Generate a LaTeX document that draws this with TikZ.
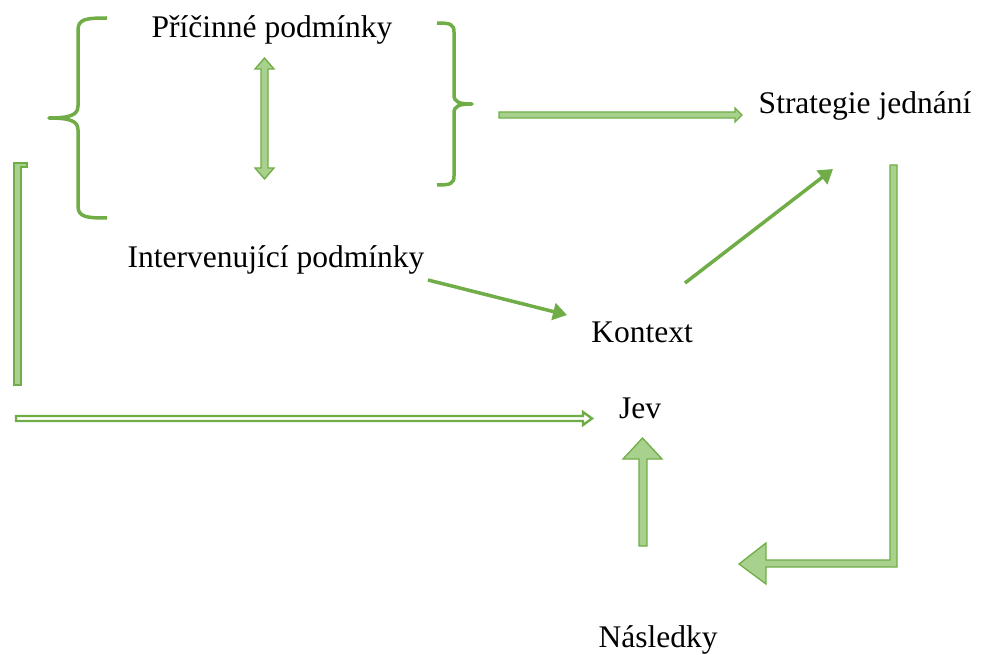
\documentclass[tikz,border=0pt]{standalone}
\usepackage{fontspec}
\setmainfont{Liberation Serif}
\usetikzlibrary{arrows.meta}

\definecolor{gline}{RGB}{112,173,71}
\definecolor{gfill}{RGB}{169,209,142}

\tikzset{
  label/.style={anchor=base, inner sep=0pt, font=\fontsize{31.5}{36}\selectfont},
  brace/.style={draw=gline, line width=3.5pt, line cap=butt, line join=round},
  blockarrow/.style={draw=gline, fill=gfill, line width=1.3pt, line join=miter},
  hollowarrow/.style={draw=gline, fill=white, line width=2.4pt, line join=miter},
  thinarrow/.style={draw=gline, line width=3.5pt, -{Triangle[length=14pt,width=17pt]}}
}

\begin{document}
\begin{tikzpicture}[x=1pt,y=-1pt]
\useasboundingbox (0,0) rectangle (984,655);

% labels
\node[label] (pric)  at (272,38)  {Příčinné podmínky};
\node[label] (strat) at (865,114) {Strategie jednání};
\node[label] (interv) at (276,267) {Intervenující podmínky};
\node[label] (kont)  at (642,342) {Kontext};
\node[label] (jev)   at (640,418) {Jev};
\node[label] (nasl)  at (658,647) {Následky};

% left curly brace
\draw[brace] (107,18) .. controls (86,18) and (78,19) .. (78,30) -- (78,106)
  .. controls (78,115) and (70,118) .. (49,118)
  .. controls (70,118) and (78,121) .. (78,130) -- (78,206)
  .. controls (78,217) and (86,218) .. (107,218);

% right curly brace
\draw[brace] (437,23) .. controls (450,23) and (454,24) .. (454,32) -- (454,95)
  .. controls (454,102) and (459,104) .. (472,104)
  .. controls (459,104) and (454,106) .. (454,113) -- (454,176)
  .. controls (454,184) and (450,185) .. (437,185);

% double-headed block arrow between the brace items
\draw[blockarrow] (264.5,58) -- (274,69) -- (268,69) -- (268,168) -- (274,168)
  -- (264.5,179) -- (255,168) -- (261,168) -- (261,69) -- (255,69) -- cycle;

% block arrow towards the strategy
\draw[blockarrow] (499,112) -- (735,112) -- (735,108) -- (742,115) -- (735,122)
  -- (735,118) -- (499,118) -- cycle;

% left bracket bar
\draw[blockarrow] (14,163) -- (27,163) -- (27,167) -- (21,167) -- (21,385)
  -- (14,385) -- cycle;

% hollow arrow into the phenomenon
\draw[hollowarrow] (16,416) -- (583,416) -- (583,412) -- (592,418.5)
  -- (583,425) -- (583,421) -- (16,421) -- cycle;

% thin arrows through the context
\coordinate (a1s) at (428,280);
\coordinate (a1e) at (567,315);
\coordinate (a2s) at (685,283);
\coordinate (a2e) at (833,169);
\draw[thinarrow] (a1s) -- (a1e);
\draw[thinarrow] (a2s) -- (a2e);

% bent block arrow from the strategy down to the consequences
\draw[blockarrow] (890,165) -- (897,165) -- (897,567) -- (766,567) -- (766,584)
  -- (739,564) -- (766,543) -- (766,560) -- (890,560) -- cycle;

% upward block arrow from the consequences to the phenomenon
\draw[blockarrow] (639,546) -- (639,459) -- (623,459) -- (642.5,438) -- (662,459)
  -- (647,459) -- (647,546) -- cycle;
\end{tikzpicture}
\end{document}
